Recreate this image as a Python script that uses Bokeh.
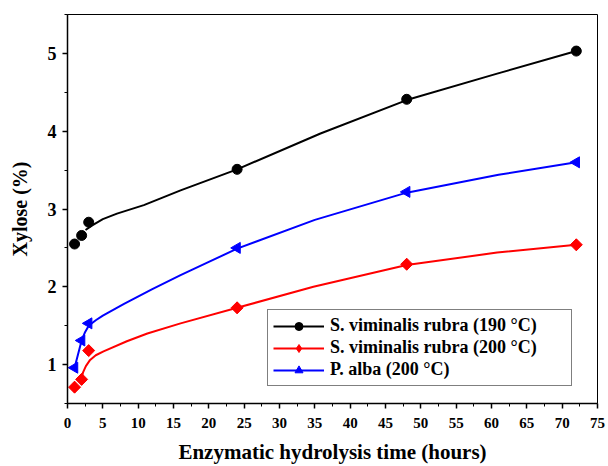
from bokeh.plotting import figure
from bokeh.models import FixedTicker, Range1d, Legend, LegendItem
from bokeh.embed import file_html
from bokeh.resources import INLINE
import math

# ---- data ----
hours = [1, 2, 3, 24, 48, 72]
svr190 = [2.55, 2.66, 2.83, 3.51, 4.41, 5.03]
svr200 = [0.71, 0.81, 1.18, 1.73, 2.29, 2.54]
palba = [0.96, 1.31, 1.53, 2.50, 3.22, 3.60]

# fitted curves as drawn in the reference
fit190_x = [2.55, 3.5, 5, 7, 10.8, 16, 24, 35.8, 48, 60.8, 72]
fit190_y = [2.73, 2.79, 2.87, 2.94, 3.05, 3.24, 3.51, 3.97, 4.40, 4.74, 5.03]
fit200_x = [1.9, 2.2, 2.6, 3.2, 4, 5.1, 8.4, 11.3, 16, 24, 34.8, 48, 60.8, 72]
fit200_y = [0.80, 0.90, 0.98, 1.06, 1.12, 1.17, 1.30, 1.40, 1.53, 1.73, 2.00, 2.28, 2.44, 2.54]
fitalba_x = [1, 2, 2.5, 3, 4, 5, 8, 12, 16, 20, 24, 35, 48, 61, 72]
fitalba_y = [0.96, 1.31, 1.42, 1.50, 1.57, 1.63, 1.78, 1.97, 2.15, 2.32, 2.49, 2.86, 3.21, 3.44, 3.60]

series_names = ["S. viminalis rubra (190 \u00b0C)",
                "S. viminalis rubra (200 \u00b0C)",
                "P. alba (200 \u00b0C)"]

x_ticks = list(range(0, 80, 5))
x_minor = [2.5 + 5 * i for i in range(15)]
y_ticks = [1, 2, 3, 4, 5]
y_minor = [0.5, 1.5, 2.5, 3.5, 4.5, 5.5]

FONT = "Liberation Serif"

p = figure(width=608, height=466,
           x_range=Range1d(0, 75), y_range=Range1d(0.5, 5.5),
           output_backend="svg", toolbar_location=None,
           min_border_left=67, min_border_right=11,
           min_border_top=14, min_border_bottom=63)

p.xgrid.visible = False
p.ygrid.visible = False
p.outline_line_color = "black"
p.outline_line_width = 1
p.background_fill_color = "white"
p.border_fill_color = "white"

p.xaxis.ticker = FixedTicker(ticks=x_ticks, minor_ticks=x_minor)
p.yaxis.ticker = FixedTicker(ticks=y_ticks, minor_ticks=y_minor)
p.xaxis.axis_label = "Enzymatic hydrolysis time (hours)"
p.yaxis.axis_label = "Xylose (%)"

for ax in (p.xaxis, p.yaxis):
    ax.axis_line_width = 1.5
    ax.axis_line_color = "black"
    ax.major_tick_line_color = "black"
    ax.major_tick_line_width = 1.5
    ax.minor_tick_line_color = "black"
    ax.minor_tick_line_width = 1
    ax.major_tick_out = 5
    ax.major_tick_in = 0
    ax.minor_tick_out = 3
    ax.minor_tick_in = 0
    ax.major_label_text_font = FONT
    ax.major_label_text_font_style = "bold"
    ax.major_label_text_color = "black"
    ax.axis_label_text_font = FONT
    ax.axis_label_text_font_style = "bold"
    ax.axis_label_text_color = "black"

p.xaxis.axis_label_text_font_size = "21px"
p.yaxis.axis_label_text_font_size = "20px"
p.xaxis.major_label_text_font_size = "15px"
p.yaxis.major_label_text_font_size = "18px"
p.xaxis.major_label_standoff = 9
p.xaxis.axis_label_standoff = 9
p.yaxis.major_label_standoff = 6
p.yaxis.axis_label_standoff = 14

# curves
l1 = p.line(fit190_x, fit190_y, line_color="black", line_width=2)
l2 = p.line(fit200_x, fit200_y, line_color="red", line_width=2)
l3 = p.line(fitalba_x, fitalba_y, line_color="blue", line_width=2)

# data markers
s1 = p.scatter(hours, svr190, marker="circle", size=10, fill_color="black", line_color="black")
# diamond shape (drawn under the rotated square; gives the legend its diamond glyph)
s2_d = p.scatter(hours, svr200, marker="diamond", size=11, fill_color="red", line_color="red")
s2 = p.scatter(hours, svr200, marker="square", size=8.5, angle=math.pi / 4,
               fill_color="red", line_color="red")
s3 = p.scatter(hours, palba, marker="triangle", size=11, angle=math.pi / 2,
               fill_color="blue", line_color="blue")

legend = Legend(items=[
    LegendItem(label=series_names[0], renderers=[l1, s1]),
    LegendItem(label=series_names[1], renderers=[l2, s2_d]),
    LegendItem(label=series_names[2], renderers=[l3, s3]),
], location=(200, 17), padding=5, spacing=1, margin=0,
    glyph_width=51, glyph_height=20, label_height=20, label_width=236,
    label_standoff=6,
    border_line_color="black", border_line_width=1,
    background_fill_color="white", background_fill_alpha=1,
    label_text_font=FONT, label_text_font_style="bold",
    label_text_font_size="18px", label_text_color="black")
p.add_layout(legend)

open("out.html", "w").write(file_html(p, INLINE))
